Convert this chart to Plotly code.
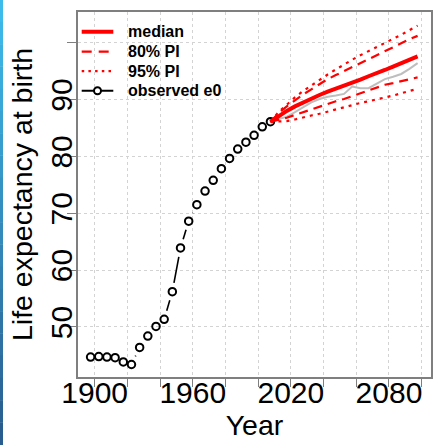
import plotly.graph_objects as go
import math

# ---------------- data ----------------
obs_years = [1897.5 + 5 * i for i in range(23)]
obs_e0 = [44.7, 44.8, 44.7, 44.6, 43.85, 43.4, 46.4, 48.4, 50.1, 51.35, 56.2,
          63.9, 68.6, 71.5, 73.9, 75.8, 77.85, 79.65, 81.3, 82.5, 83.7, 85.2, 86.1]

proj_years = [2007.5 + 5 * i for i in range(19)]
median = [86.1, 87.1, 88.0, 88.8, 89.5, 90.2, 90.8, 91.4, 91.9, 92.5, 93.0,
          93.5, 94.1, 94.6, 95.2, 95.8, 96.4, 97.0, 97.6]
pi80_up = [86.1, 87.6, 88.8, 89.9, 90.9, 91.8, 92.7, 93.6, 94.3, 95.0, 95.7,
           96.5, 97.2, 97.9, 98.6, 99.3, 99.9, 100.6, 101.2]
pi80_lo = [86.1, 86.4, 86.8, 87.3, 87.8, 88.3, 88.8, 89.3, 89.7, 90.1, 90.6,
           91.1, 91.6, 92.1, 92.6, 92.9, 93.2, 93.6, 93.9]
pi95_up = [86.1, 87.8, 89.1, 90.4, 91.5, 92.5, 93.5, 94.4, 95.3, 96.2, 97.0,
           97.8, 98.5, 99.2, 99.9, 100.6, 101.4, 102.2, 103.0]
pi95_lo = [86.1, 86.1, 86.2, 86.5, 86.9, 87.2, 87.5, 87.9, 88.3, 88.7, 89.1,
           89.4, 89.7, 90.0, 90.3, 90.7, 91.1, 91.5, 91.9]
traj = [86.1, 86.6, 87.0, 87.8, 88.6, 89.5, 90.1, 90.5, 90.7, 91.0, 92.3,
        92.0, 92.0, 92.8, 93.6, 94.0, 94.5, 95.4, 96.4]

x_tickvals = [1900, 1920, 1940, 1960, 1980, 2000, 2020, 2040, 2060, 2080, 2100]
x_ticktext = ["1900", "", "", "1960", "", "", "2020", "", "", "2080", ""]
y_tickvals = [50, 60, 70, 80, 90, 100]
y_ticktext = ["50", "60", "70", "80", "90", ""]
legend_labels = ["median", "80% PI", "95% PI", "observed e0"]

# ---------------- layout geometry ----------------
W, H = 441, 445
ML, MR, MT, MB = 78, 10, 12, 68
PW, PH = W - ML - MR, H - MT - MB
XR = [1889.8, 2105.7]
YR = [41.2, 105.4]
sx = PW / (XR[1] - XR[0])
sy = PH / (YR[1] - YR[0])


def px_x(p):
    return (p - ML) / PW


def px_y(p):
    return (H - MB - p) / PH


# R type="b": line segments with gaps around the points
GAP = 9.0
seg_x, seg_y = [], []
for i in range(len(obs_years) - 1):
    x1, y1, x2, y2 = obs_years[i], obs_e0[i], obs_years[i + 1], obs_e0[i + 1]
    dxp, dyp = (x2 - x1) * sx, (y2 - y1) * sy
    d = math.hypot(dxp, dyp)
    if d > 2 * GAP:
        f = GAP / d
        seg_x += [x1 + (x2 - x1) * f, x2 - (x2 - x1) * f, None]
        seg_y += [y1 + (y2 - y1) * f, y2 - (y2 - y1) * f, None]

FONT = "Liberation Sans, Arial, sans-serif"
RED = "#ff0000"
DASH80 = "9px,6px"
DOT95 = "3px,5px"

fig = go.Figure()

# gray trajectory
fig.add_trace(go.Scatter(x=proj_years, y=traj, mode="lines",
                         line=dict(color="#bebebe", width=2), hoverinfo="skip"))
# observed
fig.add_trace(go.Scatter(x=seg_x, y=seg_y, mode="lines",
                         line=dict(color="black", width=1.6), hoverinfo="skip"))
fig.add_trace(go.Scatter(x=obs_years, y=obs_e0, mode="markers", name="observed e0",
                         marker=dict(symbol="circle-open", size=7.5, color="black",
                                     line=dict(width=2, color="black"))))
# PIs
for ys, nm, dash in [(pi95_up, "95% PI", DOT95), (pi95_lo, "95% PI", DOT95),
                     (pi80_up, "80% PI", DASH80), (pi80_lo, "80% PI", DASH80)]:
    fig.add_trace(go.Scatter(x=proj_years, y=ys, mode="lines", name=nm,
                             line=dict(color=RED, width=2.2, dash=dash)))
fig.add_trace(go.Scatter(x=proj_years, y=median, mode="lines", name="median",
                         line=dict(color=RED, width=4)))

shapes = []
annotations = []

# manual legend (top-left, inside plot)
leg_rows_px = [31.7, 51.7, 71.2, 90.7]
leg_styles = [dict(color=RED, width=4, dash="solid"),
              dict(color=RED, width=2.2, dash="10px,7px"),
              dict(color=RED, width=2.2, dash="2.5px,4.2px"),
              dict(color="black", width=2, dash="solid")]
for lab, ry, st in zip(legend_labels, leg_rows_px, leg_styles):
    shapes.append(dict(type="line", xref="paper", yref="paper",
                       x0=px_x(81.7), x1=px_x(113.3), y0=px_y(ry), y1=px_y(ry),
                       line=st))
    annotations.append(dict(xref="paper", yref="paper", x=px_x(126), y=px_y(ry),
                            xanchor="left", yanchor="middle", showarrow=False,
                            text="<b>%s</b>" % lab,
                            font=dict(family=FONT, size=16, color="black")))
shapes.append(dict(type="circle", xref="paper", yref="paper",
                   xsizemode="pixel", ysizemode="pixel",
                   xanchor=px_x(97.5), yanchor=px_y(leg_rows_px[3]),
                   x0=-3.5, x1=3.5, y0=-3.5, y1=3.5,
                   fillcolor="white", line=dict(color="black", width=2)))

# left blue bar (slide decoration)
n = 20
top_c = (61, 187, 235)
bot_c = (42, 93, 143)
for i in range(n):
    t = i / (n - 1)
    c = tuple(int(round(top_c[k] + (bot_c[k] - top_c[k]) * t)) for k in range(3))
    shapes.append(dict(type="rect", xref="paper", yref="paper", layer="above",
                       x0=px_x(0), x1=px_x(3),
                       y0=px_y(H * (i + 1) / n), y1=px_y(H * i / n) + 0.001,
                       fillcolor="rgb(%d,%d,%d)" % c, line=dict(width=0)))

axis_common = dict(showline=True, mirror=True, linecolor="#7f7f7f", linewidth=1.5,
                   ticks="outside", tickcolor="#7f7f7f", tickwidth=1.2,
                   showgrid=True, gridcolor="#d3d3d3", griddash="dot", gridwidth=1,
                   zeroline=False, tickfont=dict(family=FONT, size=30, color="black"),
                   title_font=dict(family=FONT, size=28.5, color="black"))

fig.update_layout(
    width=W, height=H,
    margin=dict(l=ML, r=MR, t=MT, b=MB, autoexpand=False),
    paper_bgcolor="white", plot_bgcolor="white",
    shapes=shapes, annotations=annotations,
    showlegend=False,
    xaxis=dict(range=XR, tickvals=x_tickvals, ticktext=x_ticktext, ticklen=8,
               ticklabelstandoff=-20,
               title=dict(text="Year", standoff=6), **axis_common),
    yaxis=dict(range=YR, tickvals=y_tickvals, ticktext=y_ticktext, ticklen=9,
               tickangle=-90, ticklabelstandoff=-17,
               title=dict(text="Life expectancy at birth", standoff=4), **axis_common),
)

fig.write_html("out.html", config={"displayModeBar": False},
               post_script="document.body.style.margin='0';")
